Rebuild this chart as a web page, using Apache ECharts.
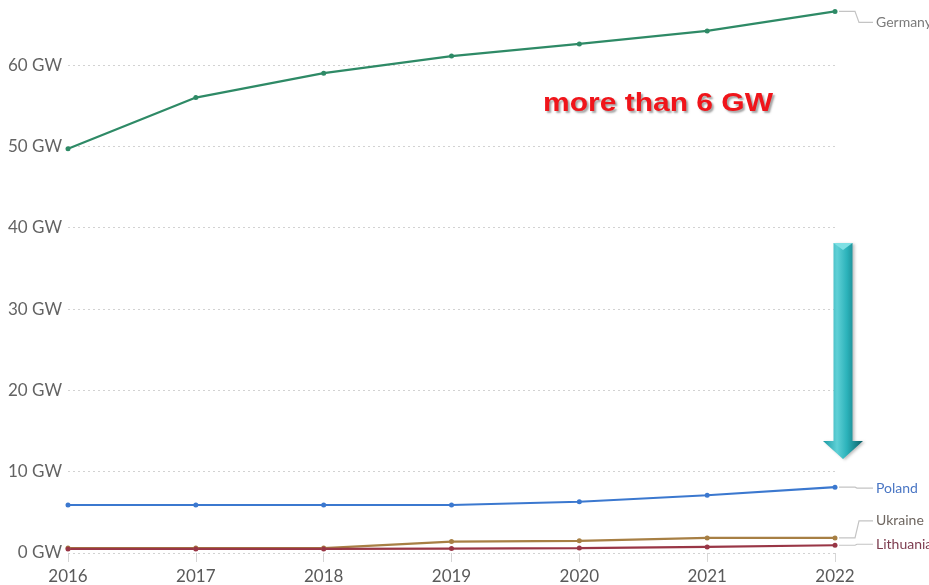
<!DOCTYPE html>
<html>
<head>
<meta charset="utf-8">
<style>
  html, body { margin: 0; padding: 0; background: #fff; }
  #chart { width: 929px; height: 585px; }
</style>
<script src="https://cdn.jsdelivr.net/npm/echarts@6/dist/echarts.min.js"></script>
</head>
<body>
<div id="chart"></div>
<script>
// Installed solar capacity, GW
const years = ['2016', '2017', '2018', '2019', '2020', '2021', '2022'];
const germany = [49.7, 56.0, 59.0, 61.1, 62.6, 64.2, 66.6];
const poland = [5.9, 5.9, 5.9, 5.9, 6.3, 7.1, 8.1];
const ukraine = [0.6, 0.6, 0.6, 1.4, 1.5, 1.85, 1.85];
const lithuania = [0.5, 0.5, 0.5, 0.55, 0.6, 0.75, 0.95];
const yTicks = [0, 10, 20, 30, 40, 50, 60];
const yMax = 68;

const seriesDefs = [
  { name: 'Germany', data: germany, color: '#2e8a66', labelColor: '#7b7b7b', labelDy: 11, bend: 6 },
  { name: 'Poland', data: poland, color: '#3b78cf', labelColor: '#4a76c4', labelDy: 1, bend: 0 },
  { name: 'Ukraine', data: ukraine, color: '#a77f44', labelColor: '#6e6660', labelDy: -17, bend: -6 },
  { name: 'Lithuania', data: lithuania, color: '#993646', labelColor: '#7d3d50', labelDy: -1, bend: 0 }
];

const chart = echarts.init(document.getElementById('chart'));
const font = 'Lato, "Open Sans", sans-serif';

chart.setOption({
  animation: false,
  grid: { left: 68, right: 94, top: 0, bottom: 31.5 },
  xAxis: {
    type: 'category',
    data: years,
    boundaryGap: false,
    axisLine: { show: false },
    axisTick: { show: true, length: 9, lineStyle: { color: '#d6d6d6' } },
    axisLabel: { color: '#5a5a5a', fontSize: 17, fontFamily: font, margin: 15 }
  },
  yAxis: {
    type: 'value',
    min: yTicks[0],
    max: yMax,
    interval: 10,
    axisLine: { show: false },
    axisTick: { show: false },
    axisLabel: {
      color: '#636363', fontSize: 17, fontFamily: font, margin: 6,
      showMaxLabel: false,
      formatter: v => v + ' GW'
    },
    splitLine: { show: false }
  },
  series: seriesDefs.map((s, i) => ({
    name: s.name,
    type: 'line',
    data: s.data,
    symbol: 'circle',
    symbolSize: 5,
    lineStyle: { color: s.color, width: 2.2 },
    itemStyle: { color: s.color },
    z: 3,
    // dotted horizontal gridlines at each tick value
    markLine: i === 0 ? {
      silent: true,
      symbol: 'none',
      label: { show: false },
      lineStyle: { color: '#d2d2d2', type: [2, 3], width: 1 },
      z: 1,
      data: yTicks.map(v => ({ yAxis: v }))
    } : undefined
  }))
});

// End-of-line labels with elbow connectors, anchored on each series' last point
const graphics = [];
seriesDefs.forEach(s => {
  const last = s.data.length - 1;
  const p = chart.convertToPixel({ seriesName: s.name }, [last, s.data[last]]);
  const x0 = p[0] + 4, y0 = p[1];
  const y1 = y0 + s.labelDy;
  graphics.push({
    type: 'polyline',
    shape: { points: [[x0, y0], [x0 + 16, y0], [x0 + 18 + (s.bend ? 2 : 0), y1], [x0 + 34, y1]] },
    style: { stroke: '#c4c4c4', lineWidth: 1.2, fill: null },
    silent: true
  });
  graphics.push({
    type: 'text',
    x: x0 + 37,
    y: y1,
    style: {
      text: s.name, fill: s.labelColor, font: '14px ' + font,
      textVerticalAlign: 'middle', verticalAlign: 'middle'
    }
  });
});

// Callout text
graphics.push({
  type: 'text',
  x: 543, y: 104,
  scaleX: 1.2,
  style: {
    text: 'more than 6 GW',
    fill: '#f0141a',
    font: 'bold 25px "Liberation Sans", Arial, sans-serif',
    verticalAlign: 'middle',
    textShadowColor: 'rgba(90,90,90,0.55)',
    textShadowBlur: 2,
    textShadowOffsetX: 2,
    textShadowOffsetY: 2
  }
});

// Downward teal arrow
const ax = 843;
const shaftTop = 243, headTop = 441, tip = 459;
const shaftHalf = 9.5, headHalf = 20;
graphics.push({
  type: 'polygon',
  shape: {
    points: [
      [ax - shaftHalf, shaftTop], [ax + shaftHalf, shaftTop],
      [ax + shaftHalf, headTop], [ax + headHalf, headTop],
      [ax, tip], [ax - headHalf, headTop], [ax - shaftHalf, headTop]
    ]
  },
  style: {
    fill: new echarts.graphic.LinearGradient(0, 0, 1, 0, [
      { offset: 0, color: '#1a9aa3' },
      { offset: 0.35, color: '#5fd0d6' },
      { offset: 0.6, color: '#2bb2ba' },
      { offset: 1, color: '#0c5e66' }
    ]),
    shadowColor: 'rgba(0,0,0,0.25)', shadowBlur: 3, shadowOffsetX: 2, shadowOffsetY: 1
  },
  z: 10
});
// arrow top bevel
graphics.push({
  type: 'polygon',
  shape: { points: [[ax - shaftHalf, shaftTop], [ax + shaftHalf, shaftTop], [ax, shaftTop + 7]] },
  style: { fill: '#7fe0e4' },
  z: 11
});

chart.setOption({ graphic: graphics });
</script>
</body>
</html>
